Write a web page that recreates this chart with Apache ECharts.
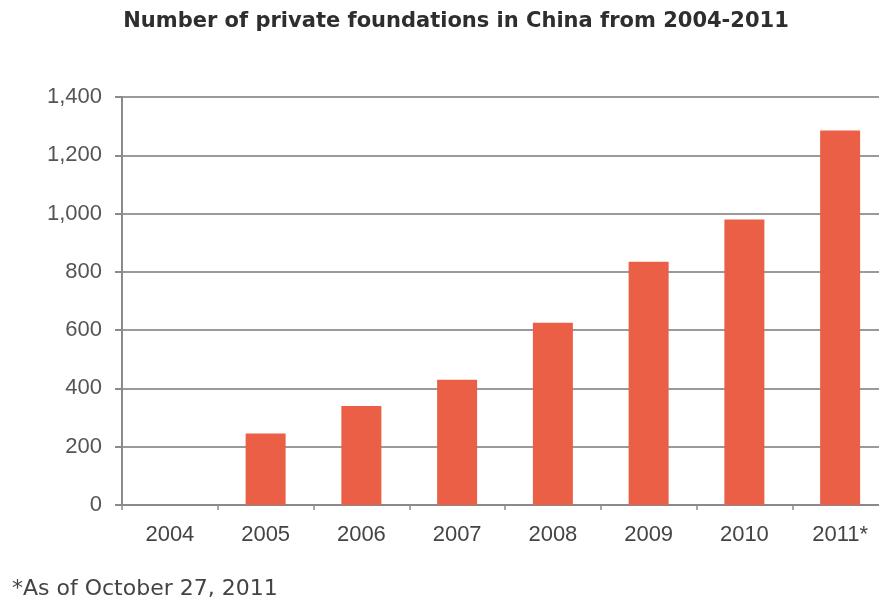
<!DOCTYPE html>
<html>
<head>
<meta charset="utf-8">
<script src="https://cdn.jsdelivr.net/npm/echarts@6/dist/echarts.min.js"></script>
<style>
  html, body { margin:0; padding:0; background:#fff; overflow:hidden; }
  #chart { width:879px; height:608px; }
</style>
</head>
<body>
<div id="chart"></div>
<script>
var YEARS = ['2004', '2005', '2006', '2007', '2008', '2009', '2010', '2011*'];
var FOUNDATIONS = [0, 245, 340, 430, 625, 835, 980, 1285];
var Y_TICKS = [0, 200, 400, 600, 800, 1000, 1200, 1400];

(function(){
  var chart = echarts.init(document.getElementById('chart'), null, {renderer:'canvas'});
  var FONT = 'Liberation Sans';

  chart.setOption({
    backgroundColor:'#ffffff',
    animation:false,
    title:{
      text:'Number of private foundations in China from 2004-2011',
      left:451, top:6, textAlign:'center',
      textStyle:{ fontFamily:'DejaVu Sans', fontSize:21, fontWeight:'bold', color:'#2e2e2e' }
    },
    graphic:[{
      type:'text', left:12, top:578,
      style:{ text:'*As of October 27, 2011', font:'22px "DejaVu Sans"', fill:'#444' }
    }],
    // plot runs a little past the right edge of the picture, as in the scan
    grid:{ left:122, top:97, width:766, bottom:103, containLabel:false, outerBoundsMode:'none' },
    xAxis:{
      type:'category', data:YEARS,
      axisLine:{ lineStyle:{ color:'#8a8a8a', width:2 } },
      axisTick:{ show:true, length:5, lineStyle:{ color:'#8a8a8a', width:1.5 } },
      axisLabel:{ fontFamily:FONT, fontSize:22, color:'#444', margin:19 }
    },
    yAxis:{
      type:'value', min:Y_TICKS[0], max:Y_TICKS[Y_TICKS.length-1], interval:200,
      axisLine:{ show:true, lineStyle:{ color:'#8a8a8a', width:2 } },
      axisTick:{ show:true, length:7, lineStyle:{ color:'#8a8a8a', width:2 } },
      splitLine:{ lineStyle:{ color:'#9a9a9a', width:2 } },
      axisLabel:{
        fontFamily:FONT, fontSize:22, color:'#555', margin:20,
        formatter:function(v){ return v.toLocaleString('en-US'); }
      }
    },
    series:[{
      type:'bar', data:FOUNDATIONS, barWidth:40,
      itemStyle:{ color:'#ea5f45' }
    }]
  });
})();
</script>
</body>
</html>
